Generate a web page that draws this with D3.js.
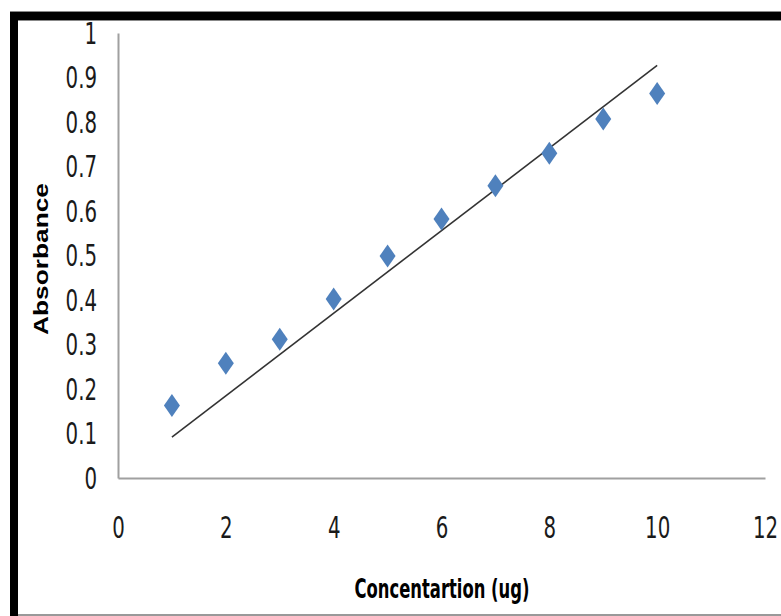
<!DOCTYPE html>
<html>
<head>
<meta charset="utf-8">
<script src="https://cdn.jsdelivr.net/npm/d3@7"></script>
<style>
  html, body { margin: 0; padding: 0; background: #fff; }
  svg { display: block; }
  .tick-label { font-family: "Liberation Sans Narrow", "DejaVu Sans Condensed", sans-serif; font-size: 22px; fill: #1a1a1a; }
</style>
</head>
<body>
<div id="chart"></div>
<script>
// Chart data
const concentration = [1, 2, 3, 4, 5, 6, 7, 8, 9, 10];
const absorbance = [0.163, 0.258, 0.312, 0.402, 0.499, 0.582, 0.657, 0.730, 0.807, 0.864];
// Linear trendline end points, as drawn in the picture
const trendX = [1, 10];
const trendY = [0.092, 0.927];
const xTicks = [0, 2, 4, 6, 8, 10, 12];
const yTicks = [0, 0.1, 0.2, 0.3, 0.4, 0.5, 0.6, 0.7, 0.8, 0.9, 1];

const width = 781;
const height = 616;
const plot = { left: 118, right: 765, top: 33, bottom: 478 };

const svg = d3.select('#chart')
    .append('svg')
    .attr('width', width)
    .attr('height', height);

// Frame: heavy black band at top and left, thin grey line at bottom
svg.append('rect').attr('x', 10).attr('y', 11).attr('width', width - 10).attr('height', 10).attr('fill', '#888');
svg.append('rect').attr('x', 10).attr('y', 12).attr('width', width - 10).attr('height', 8).attr('fill', '#000');
svg.append('rect').attr('x', 10).attr('y', 12).attr('width', 8).attr('height', height - 12).attr('fill', '#000');
svg.append('line')
    .attr('x1', 18).attr('x2', width)
    .attr('y1', 615).attr('y2', 615)
    .attr('stroke', '#777').attr('stroke-width', 1.5);

const x = d3.scaleLinear().domain([0, 12]).range([plot.left, plot.right]);
const y = d3.scaleLinear().domain([0, 1]).range([plot.bottom, plot.top]);

// Y axis
const yAxis = svg.append('g')
    .attr('transform', `translate(${plot.left},0)`)
    .call(d3.axisLeft(y).tickValues(yTicks).tickSize(0).tickSizeOuter(0)
        .tickFormat(d => d3.format('~g')(d)));
yAxis.select('.domain').attr('stroke', '#a0a0a0').attr('stroke-width', 2);
yAxis.selectAll('text')
    .attr('class', 'tick-label')
    .attr('x', -21)
    .attr('dy', '0.35em')
    .attr('transform', 'scale(1,1.35)');

// X axis
const xAxis = svg.append('g')
    .attr('transform', `translate(0,${plot.bottom})`)
    .call(d3.axisBottom(x).tickValues(xTicks).tickSize(0).tickSizeOuter(0));
xAxis.select('.domain').attr('stroke', '#a0a0a0').attr('stroke-width', 2);
xAxis.selectAll('text')
    .attr('class', 'tick-label')
    .attr('y', 0)
    .attr('dy', '0.35em')
    .attr('transform', 'translate(0,50) scale(1,1.35)');

// Trendline
svg.append('line')
    .attr('x1', x(trendX[0])).attr('y1', y(trendY[0]))
    .attr('x2', x(trendX[1])).attr('y2', y(trendY[1]))
    .attr('stroke', '#333')
    .attr('stroke-width', 1.6);

// Diamond markers (tall, like the reference)
const diamond = 'M0,-11.5 L8,0 L0,11.5 L-8,0 Z';
svg.append('g')
    .selectAll('path')
    .data(concentration.map((c, i) => ({ c, a: absorbance[i] })))
    .join('path')
    .attr('d', diamond)
    .attr('transform', d => `translate(${x(d.c)},${y(d.a)})`)
    .attr('fill', '#4f81bd');

// Axis titles
svg.append('text')
    .attr('transform', 'translate(442,598) scale(1,1.3)')
    .attr('text-anchor', 'middle')
    .attr('font-family', '"Liberation Sans Narrow", "DejaVu Sans Condensed", sans-serif')
    .attr('font-weight', 'bold')
    .attr('font-size', 20)
    .attr('textLength', 175)
    .attr('lengthAdjust', 'spacingAndGlyphs')
    .attr('fill', '#000')
    .text('Concentartion (ug)');

svg.append('text')
    .attr('transform', 'translate(48,259) rotate(-90)')
    .attr('text-anchor', 'middle')
    .attr('font-family', '"Liberation Sans", Arial, sans-serif')
    .attr('font-weight', 'bold')
    .attr('font-size', 21)
    .attr('textLength', 152)
    .attr('lengthAdjust', 'spacingAndGlyphs')
    .attr('fill', '#000')
    .text('Absorbance');
</script>
</body>
</html>
